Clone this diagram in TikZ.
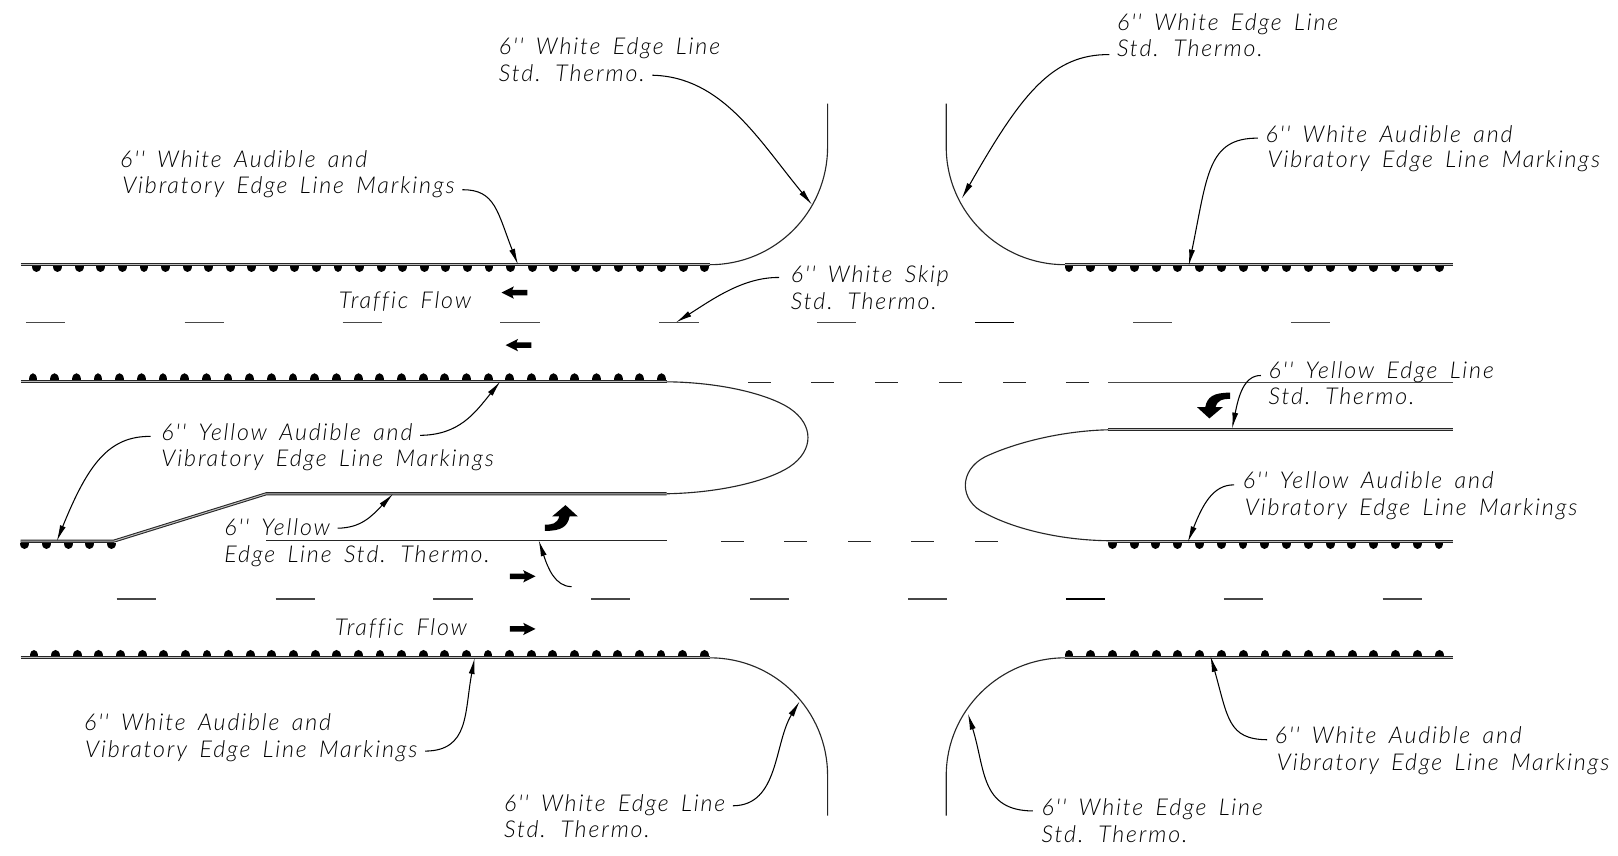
\documentclass[tikz,border=0pt]{standalone}
\usepackage{fontspec}
\usetikzlibrary{arrows.meta}
\newfontfamily\cadfont[LetterSpace=8,WordSpace=1.6,Ligatures=NoCommon]{Lato Light Italic}
\tikzset{
  cadlabel/.style={font=\cadfont\fontsize{6.6}{8}\selectfont, anchor=west, inner xsep=2pt, inner ysep=0pt, text height=4.4pt, text depth=1pt, yshift=-0.7pt},
  leader/.style={line width=0.3pt, -{Latex[length=4.6pt,width=1.7pt]}},
  edge/.style={draw=black!85, line width=0.32pt},
  edgedouble/.style={draw=black!85, line width=0.3pt, double=black!25, double distance=0.28pt},
  skip/.style={draw=black!72, line width=0.45pt},
  skipdark/.style={draw=black, line width=0.45pt},
  flow/.pic={\fill (0,0) -- (12,-6) -- (10.5,-2.7) -- (25,-2.7) -- (25,2.7) -- (10.5,2.7) -- (12,6) -- cycle;},
  turn/.pic={\fill (0,0) -- (0,-6) .. controls (7,-6) and (12,-7) .. (14,-14) -- (7,-14) -- (20,-25) -- (32,-14) -- (24,-14) .. controls (22,-4) and (16,0) .. (0,0) -- cycle;}
}
% fila de tachas: inicio, paso, ultimo indice, y, sentido
\newcommand{\rumble}[5]{\foreach \i in {0,...,#3} \fill ({#1+\i*#2-4.3},#4) .. controls +(0,#5) and +(0,#5) .. +(8.6,0) -- cycle;}
\begin{document}
\begin{tikzpicture}[x=0.010319cm, y=-0.010319cm]
    \useasboundingbox (0,-0.5) rectangle (1568,829);

    % Borde superior
    \draw[edgedouble] (20,256) -- (688,256);
    \draw[edge] (688,256) .. controls (751,256) and (802,205) .. (802,142) -- (802,100);
    \rumble{35}{20.9}{31}{257.5}{8}
    \draw[edgedouble] (1032,256) -- (1408,256);
    \draw[edge] (1032,256) .. controls (969,256) and (917,205) .. (917,142) -- (917,100);
    \rumble{1036}{21.1}{17}{257.5}{8}

    % Borde inferior
    \draw[edgedouble] (20,636.5) -- (688,636.5);
    \draw[edge] (688,637) .. controls (751,637) and (802,688) .. (802,751) -- (802,790);
    \rumble{33}{20.95}{31}{635}{-8}
    \draw[edgedouble] (1032,636.5) -- (1408,636.5);
    \draw[edge] (1032,637) .. controls (969,637) and (917,688) .. (917,751) -- (917,790);
    \rumble{1036}{21.1}{17}{635}{-8}

    % Isleta izquierda
    \draw[edgedouble] (20,369) -- (646,369);
    \rumble{32}{21}{29}{367.5}{-8}
    \draw[edge] (646,369.5) .. controls (700,370) and (745,382) .. (765,395) .. controls (789,411) and (789,436) .. (765,452) .. controls (745,465) and (700,477) .. (646,478);
    \draw[edgedouble] (20,524) -- (110,524) -- (258,478) -- (646,478);
    \rumble{24}{21}{4}{525.5}{8}
    \draw[edge] (258,523) -- (646,523);

    % Isleta derecha
    \draw[skip] (1074,370) -- (1408,370);
    \draw[edgedouble] (1074,416) -- (1408,416);
    \draw[edgedouble] (1074,524) -- (1408,524);
    \rumble{1078}{21.1}{15}{525.5}{8}
    \draw[edge] (1074,416) .. controls (1030,417) and (985,428) .. (955,442) .. controls (929,455) and (929,485) .. (955,497) .. controls (985,513) and (1030,523) .. (1074,523.5);

    % Lineas segmentadas
    \foreach \x in {25,179,332,485,639,792,1098,1251} \draw[skip] (\x,312) -- ++(38,0);
    \draw[skipdark] (945,312) -- ++(38,0);
    \foreach \x in {113,267,420,573,727,880,1186,1340} \draw[skip] (\x,580) -- ++(38,0);
    \draw[skipdark] (1033,580) -- ++(38,0);
    \foreach \x in {725,786,848,910,972,1033} \draw[edge] (\x,370) -- ++(22,0);
    \foreach \x in {699,760,822,883,945} \draw[edge] (\x,524) -- ++(22,0);

    % Flechas
    \pic at (486,283) {flow};
    \pic at (490,334) {flow};
    \pic[xscale=-1] at (519,558) {flow};
    \pic[xscale=-1] at (519,609) {flow};
    \pic at (528,514) {turn};
    \pic[rotate=180] at (1192,380) {turn};

    % Textos
    \node[cadlabel] (welA) at (476,44) {6'' White Edge Line};
    \node[cadlabel] (welAb) at (476,70) {Std. Thermo.};
    \node[cadlabel] (welB) at (1075,21) {6'' White Edge Line};
    \node[cadlabel] (welBb) at (1075,46) {Std. Thermo.};
    \node[cadlabel] (welC) at (481,778) {6'' White Edge Line};
    \node[cadlabel] (welCb) at (481,803) {Std. Thermo.};
    \node[cadlabel] (welD) at (1002,782) {6'' White Edge Line};
    \node[cadlabel] (welDb) at (1002,808) {Std. Thermo.};
    \node[cadlabel] (wavA) at (109,154) {6'' White Audible and};
    \node[cadlabel] (wavAb) at (111,179) {Vibratory Edge Line Markings};
    \node[cadlabel] (wavB) at (1219,129) {6'' White Audible and};
    \node[cadlabel] (wavBb) at (1221,154) {Vibratory Edge Line Markings};
    \node[cadlabel] (wavC) at (74,699) {6'' White Audible and};
    \node[cadlabel] (wavCb) at (75,725) {Vibratory Edge Line Markings};
    \node[cadlabel] (wavD) at (1228,712) {6'' White Audible and};
    \node[cadlabel] (wavDb) at (1230,738) {Vibratory Edge Line Markings};
    \node[cadlabel] (yavA) at (149,418) {6'' Yellow Audible and};
    \node[cadlabel] (yavAb) at (149,443) {Vibratory Edge Line Markings};
    \node[cadlabel] (yavB) at (1197,465) {6'' Yellow Audible and};
    \node[cadlabel] (yavBb) at (1199,491) {Vibratory Edge Line Markings};
    \node[cadlabel] (yelA) at (210,510) {6'' Yellow};
    \node[cadlabel] (yelAb) at (210,536) {Edge Line Std. Thermo.};
    \node[cadlabel] (yelB) at (1222,358) {6'' Yellow Edge Line};
    \node[cadlabel] (yelBb) at (1222,383) {Std. Thermo.};
    \node[cadlabel] (skipA) at (759,265) {6'' White Skip};
    \node[cadlabel] (skipAb) at (759,291) {Std. Thermo.};
    \node[cadlabel] (flowA) at (321,290) {Traffic Flow};
    \node[cadlabel] (flowB) at (317,607) {Traffic Flow};

    % Puntos de llegada
    \coordinate (welAend) at (787,198);
    \coordinate (welBend) at (932,192);
    \coordinate (welCend) at (775,679);
    \coordinate (welDend) at (938,691);
    \coordinate (wavAend) at (502,256);
    \coordinate (wavBend) at (1152,257);
    \coordinate (wavCend) at (460,637);
    \coordinate (wavDend) at (1173,635);
    \coordinate (yavAend) at (485,369);
    \coordinate (yavAleft) at (55,524);
    \coordinate (yavBend) at (1151,525);
    \coordinate (yelAend) at (381,478);
    \coordinate (yelBend) at (1194,415);
    \coordinate (skipAend) at (655,312);
    \coordinate (yelCstart) at (554,568);
    \coordinate (yelCend) at (522,523);

    % Flechas de referencia
    \draw[leader] (welAb.east) ++(0,0) .. controls (700,74) and (735,135) .. (welAend);
    \draw[leader] (welBb.west) ++(0,4) .. controls (1020,52) and (990,90) .. (welBend);
    \draw[leader] (welC.east) ++(0,0) .. controls (755,780) and (750,720) .. (welCend);
    \draw[leader] (welD.west) ++(-1,1) .. controls (950,785) and (955,745) .. (welDend);
    \draw[leader] (wavAb.east) ++(0,2) .. controls (480,183) and (482,205) .. (wavAend);
    \draw[leader] (wavB.west) ++(0,2) .. controls (1170,133) and (1170,170) .. (wavBend);
    \draw[leader] (wavCb.east) ++(0,0) .. controls (455,727) and (450,690) .. (wavCend);
    \draw[leader] (wavD.west) ++(0,2) .. controls (1190,716) and (1190,695) .. (wavDend);
    \draw[leader] (yavA.east) ++(0,1) .. controls (445,421) and (460,400) .. (yavAend);
    \draw[leader] (yavA.west) ++(-3,2) .. controls (105,422) and (85,450) .. (yavAleft);
    \draw[leader] (yavB.west) ++(-1,2) .. controls (1175,469) and (1165,490) .. (yavBend);
    \draw[leader] (yelA.east) ++(0,-1) .. controls (350,511) and (360,500) .. (yelAend);
    \draw[leader] (yelB.west) ++(0,3) .. controls (1205,363) and (1200,385) .. (yelBend);
    \draw[leader] (skipA.west) ++(-4,1) .. controls (720,268) and (690,290) .. (skipAend);
    \draw[leader] (yelCstart) .. controls (538,568) and (531,550) .. (yelCend);
\end{tikzpicture}
\end{document}
